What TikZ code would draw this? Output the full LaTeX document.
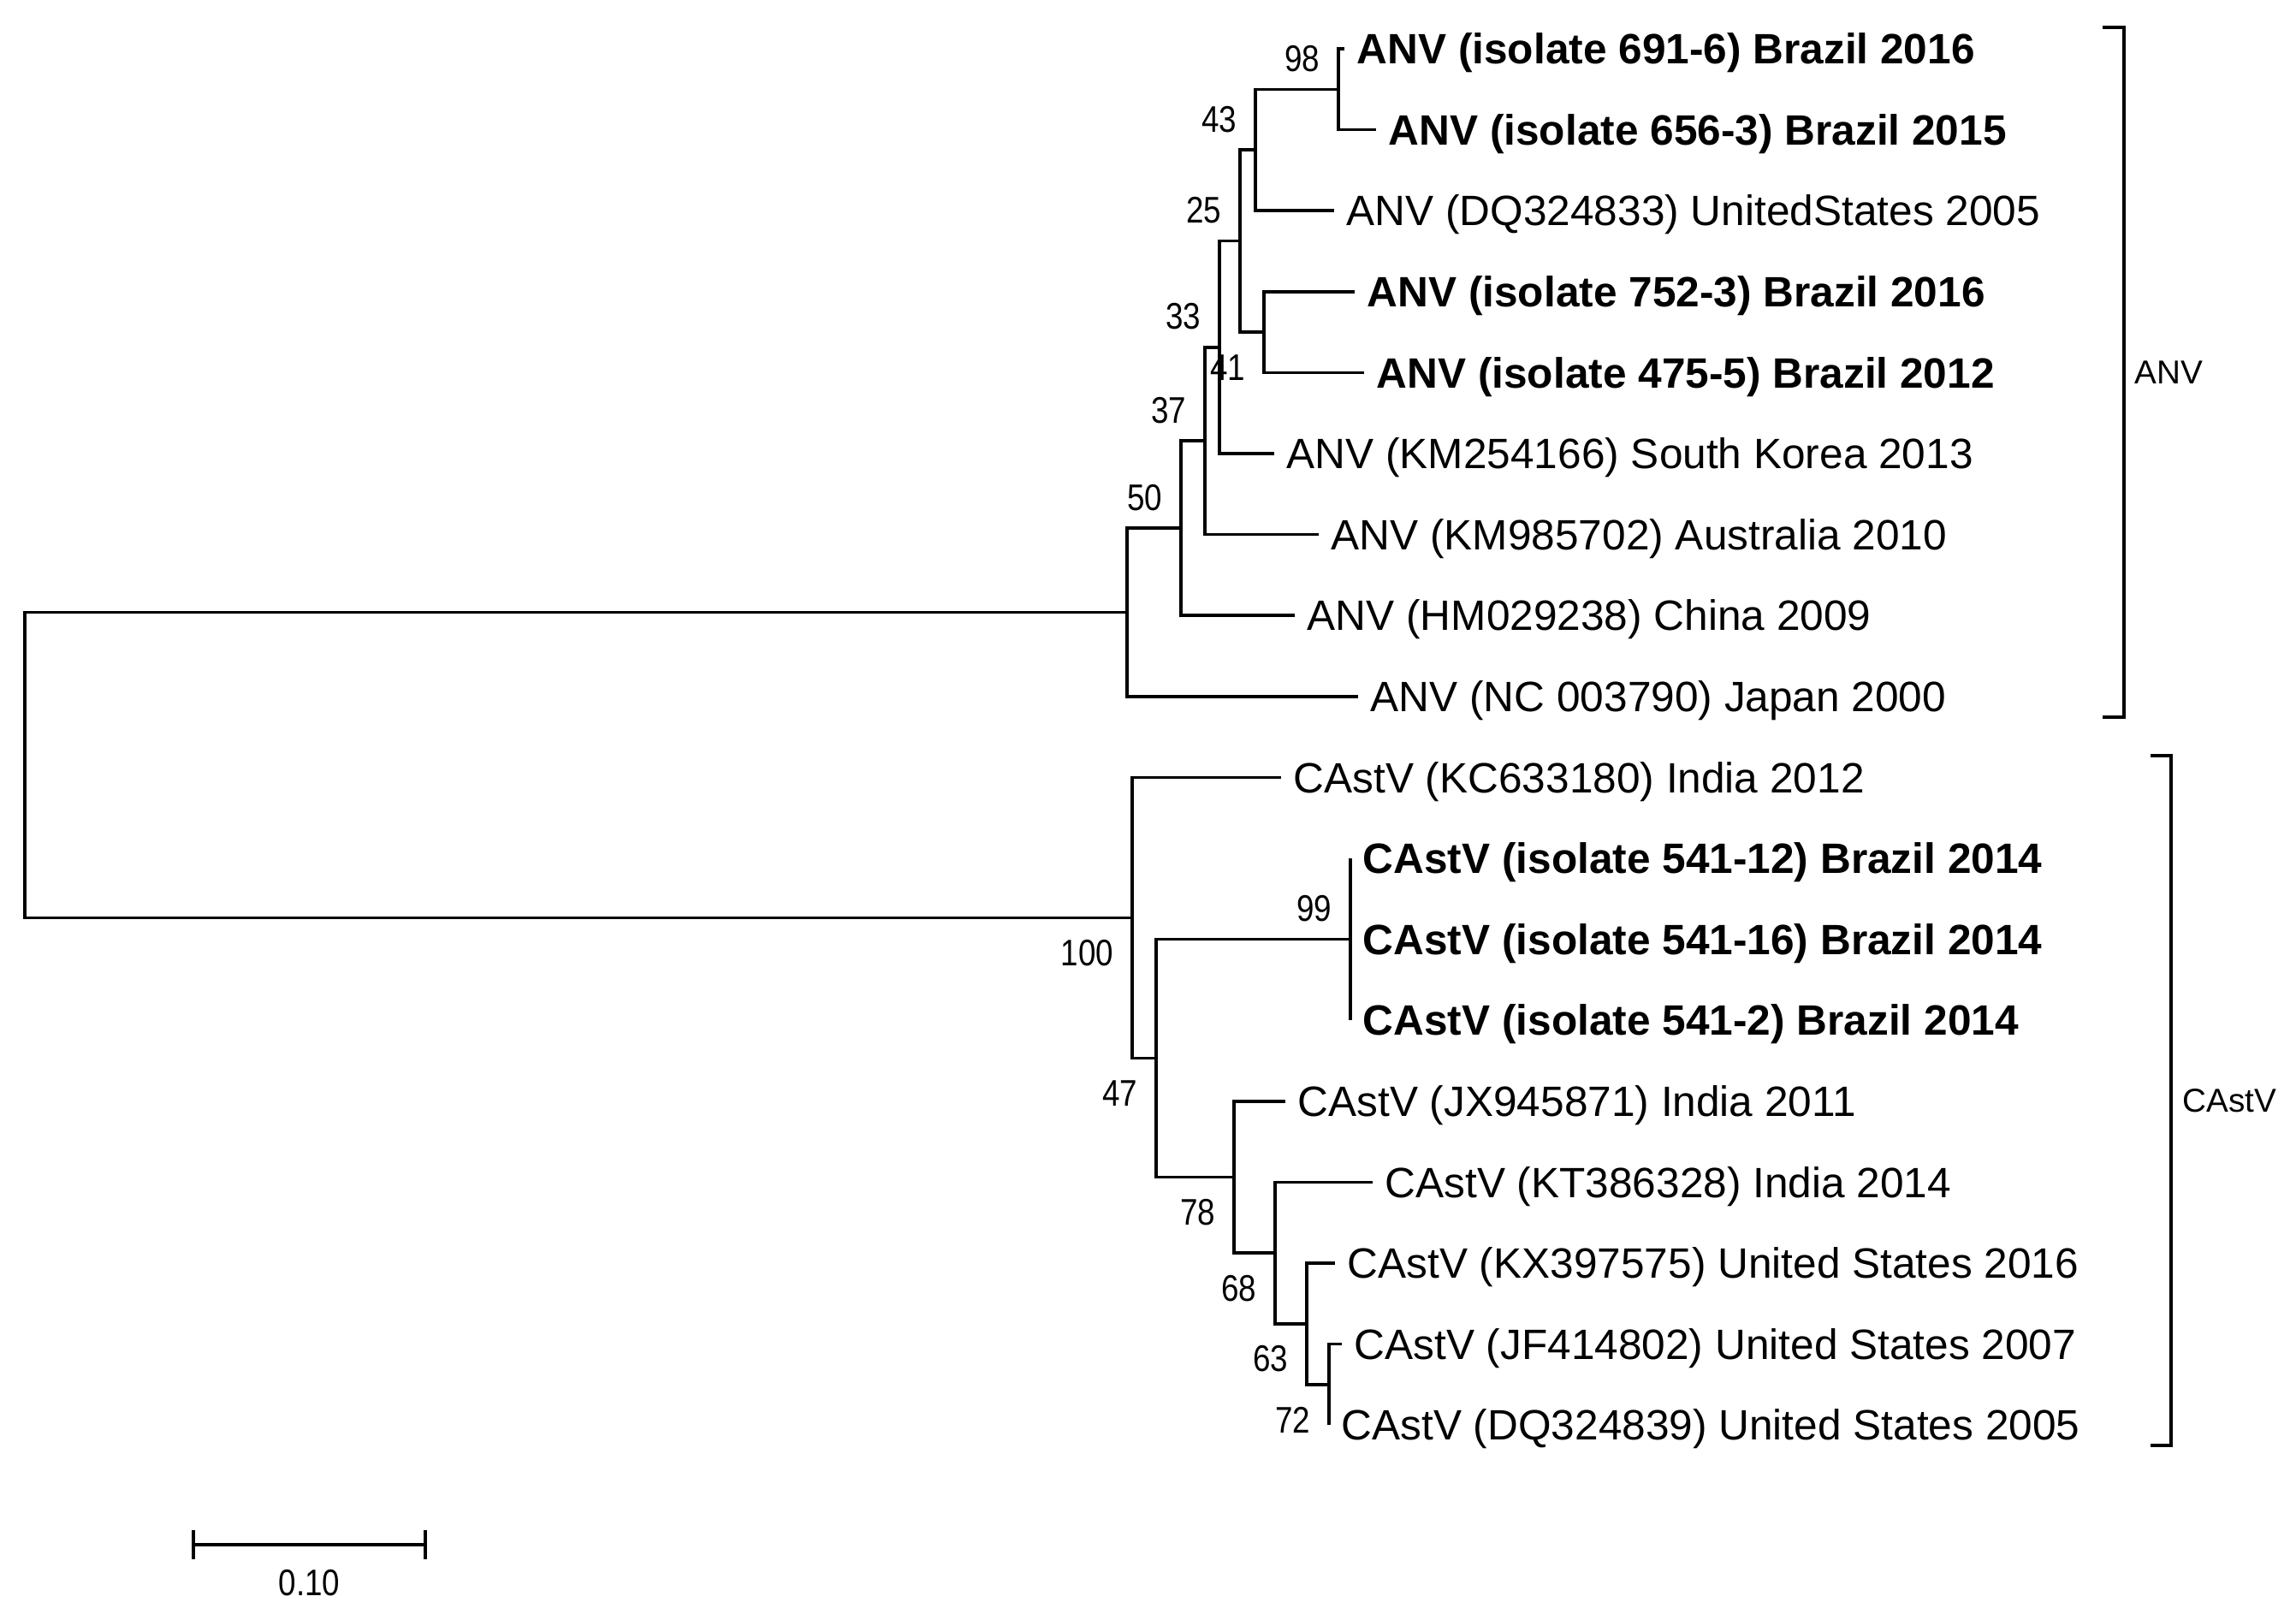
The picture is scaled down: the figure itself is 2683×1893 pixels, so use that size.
\documentclass[tikz,border=0pt]{standalone}
\usepackage{fontspec}
\setmainfont{Liberation Sans}
\newfontfamily\bsfont[FakeStretch=0.85]{Liberation Sans}
\usetikzlibrary{positioning}

\tikzset{
  branch/.style={line width=1pt},
  leaflab/.style={anchor=base west, inner sep=0pt, xshift=0.14cm, yshift=-5.05pt, font=\fontsize{14.1}{16}\selectfont},
  isolab/.style={leaflab, font=\fontsize{14.1}{16}\selectfont\bfseries},
  bs/.style={inner sep=0pt, anchor=east, font=\bsfont\fontsize{12.3}{14}\selectfont},
  bsup/.style={bs, xshift=-0.21cm, yshift=0.36cm},
  bsdown/.style={bs, xshift=-0.21cm, yshift=-0.41cm},
  cladelab/.style={anchor=west, inner sep=0pt, font=\fontsize{11}{13}\selectfont},
}

\begin{document}
\begin{tikzpicture}[x=0.01cm, y=-0.01cm]
    \useasboundingbox (0,0) rectangle (2683,1893);

    % internal nodes
    \coordinate (root) at (29,894);
    \coordinate (nANV) at (1317,715.5);
    \coordinate (n50) at (1380,617.2);
    \coordinate (n37) at (1408,515.2);
    \coordinate (n33) at (1425,405.85);
    \coordinate (n25) at (1449,281.7);
    \coordinate (n43) at (1467,175.25);
    \coordinate (n98) at (1564,104.3);
    \coordinate (n41) at (1477,388.1);
    \coordinate (n100) at (1323,1072.5);
    \coordinate (n47) at (1351,1236.55);
    \coordinate (n99) at (1578,1097.6);
    \coordinate (n78) at (1442,1375.5);
    \coordinate (n68) at (1490,1464.2);
    \coordinate (n63) at (1527,1546.95);
    \coordinate (n72) at (1553,1617.9);

    % leaf tips
    \coordinate (l0) at (1571,57.0);
    \coordinate (l1) at (1608,151.6);
    \coordinate (l2) at (1559,246.2);
    \coordinate (l3) at (1583,340.8);
    \coordinate (l4) at (1594,435.4);
    \coordinate (l5) at (1489,530.0);
    \coordinate (l6) at (1541,624.6);
    \coordinate (l7) at (1513,719.2);
    \coordinate (l8) at (1587,813.8);
    \coordinate (l9) at (1497,908.4);
    \coordinate (l10) at (1578,1003.0); % zero length
    \coordinate (l11) at (1578,1097.6);
    \coordinate (l12) at (1578,1192.2);
    \coordinate (l13) at (1502,1286.8);
    \coordinate (l14) at (1604,1381.4);
    \coordinate (l15) at (1560,1476.0);
    \coordinate (l16) at (1568,1570.6);
    \coordinate (l17) at (1553,1665.2);

    % Branches
    \foreach \p/\c in {root/nANV, root/n100, nANV/n50, nANV/l8, n50/n37, n50/l7,
        n37/n33, n37/l6, n33/n25, n33/l5, n25/n43, n25/n41, n43/n98, n43/l2,
        n98/l0, n98/l1, n41/l3, n41/l4, n100/l9, n100/n47, n47/n99, n47/n78,
        n99/l10, n99/l11, n99/l12, n78/l13, n78/n68, n68/l14, n68/n63,
        n63/l15, n63/n72, n72/l16, n72/l17}
        \draw[branch] (\p) |- (\c);

    % Taxa
    \node[isolab] (t0) at (l0) {ANV (isolate 691-6) Brazil 2016};
    \node[isolab] (t1) at (l1) {ANV (isolate 656-3) Brazil 2015};
    \node[leaflab] (t2) at (l2) {ANV (DQ324833) UnitedStates 2005};
    \node[isolab] (t3) at (l3) {ANV (isolate 752-3) Brazil 2016};
    \node[isolab] (t4) at (l4) {ANV (isolate 475-5) Brazil 2012};
    \node[leaflab] (t5) at (l5) {ANV (KM254166) South Korea 2013};
    \node[leaflab] (t6) at (l6) {ANV (KM985702) Australia 2010};
    \node[leaflab] (t7) at (l7) {ANV (HM029238) China 2009};
    \node[leaflab] (t8) at (l8) {ANV (NC 003790) Japan 2000};
    \node[leaflab] (t9) at (l9) {CAstV (KC633180) India 2012};
    \node[isolab] (t10) at (l10) {CAstV (isolate 541-12) Brazil 2014};
    \node[isolab] (t11) at (l11) {CAstV (isolate 541-16) Brazil 2014};
    \node[isolab] (t12) at (l12) {CAstV (isolate 541-2) Brazil 2014};
    \node[leaflab] (t13) at (l13) {CAstV (JX945871) India 2011};
    \node[leaflab] (t14) at (l14) {CAstV (KT386328) India 2014};
    \node[leaflab] (t15) at (l15) {CAstV (KX397575) United States 2016};
    \node[leaflab] (t16) at (l16) {CAstV (JF414802) United States 2007};
    \node[leaflab] (t17) at (l17) {CAstV (DQ324839) United States 2005};

    % Bootstrap values
    \node[bsup] (b98) at (n98) {98};
    \node[bsup] (b43) at (n43) {43};
    \node[bsup] (b25) at (n25) {25};
    \node[bsup] (b33) at (n33) {33};
    \node[bsdown] (b41) at (n41) {41};
    \node[bsup] (b37) at (n37) {37};
    \node[bsup] (b50) at (n50) {50};
    \node[bsdown] (b100) at (n100) {100};
    \node[bsup] (b99) at (n99) {99};
    \node[bsdown] (b47) at (n47) {47};
    \node[bsdown] (b78) at (n78) {78};
    \node[bsdown] (b68) at (n68) {68};
    \node[bsdown] (b63) at (n63) {63};
    \node[bsdown] (b72) at (n72) {72};

    % Clade brackets
    \coordinate (anvT) at (2482,32);
    \coordinate (anvB) at (2482,838);
    \draw[branch] ([xshift=-0.25cm]anvT) -- (anvT) -- (anvB) -- ([xshift=-0.25cm]anvB);
    \node[cladelab] (anvlab) at (2494,435) {ANV};
    \coordinate (castT) at (2537,883);
    \coordinate (castB) at (2537,1689);
    \draw[branch] ([xshift=-0.24cm]castT) -- (castT) -- (castB) -- ([xshift=-0.24cm]castB);
    \node[cladelab] (castlab) at (2550,1286) {CAstV};

    % Scale bar
    \coordinate (s0) at (226,1805);
    \coordinate (s1) at (497,1805);
    \draw[branch] (s0) -- (s1);
    \draw[branch] ([yshift=0.17cm]s0) -- ([yshift=-0.17cm]s0);
    \draw[branch] ([yshift=0.17cm]s1) -- ([yshift=-0.17cm]s1);
    \node[bs, anchor=center] (sclab) at (361.5,1850) {0.10};
\end{tikzpicture}
\end{document}
